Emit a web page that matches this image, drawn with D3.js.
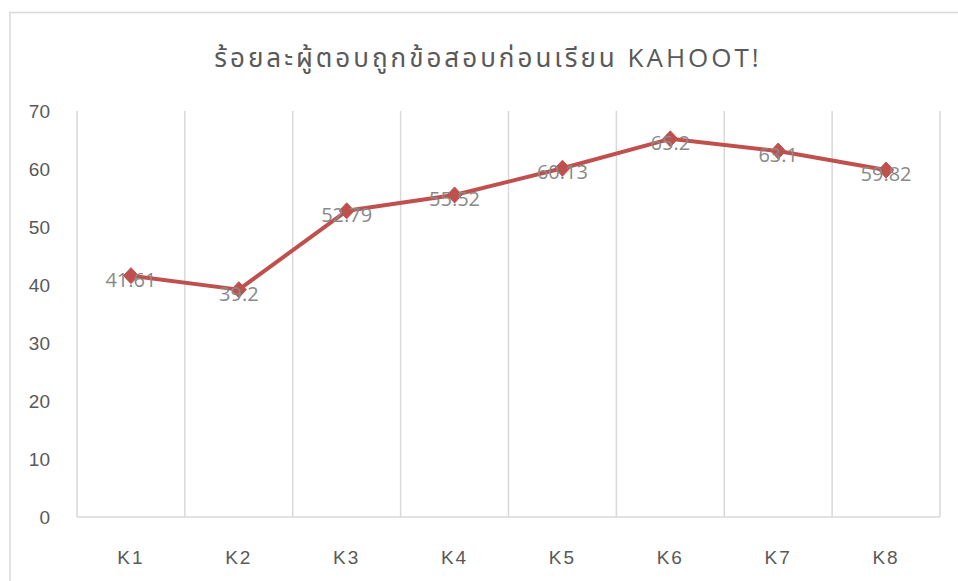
<!DOCTYPE html>
<html>
<head>
<meta charset="utf-8">
<script src="https://cdn.jsdelivr.net/npm/d3@7"></script>
<style>
  html, body { margin: 0; padding: 0; background: #fff; }
  svg { display: block; font-family: "Open Sans", "Noto Sans", "Noto Sans Thai", sans-serif; }
</style>
</head>
<body>
<svg id="chart" width="958" height="581"></svg>
<script>
const categories = ["K1", "K2", "K3", "K4", "K5", "K6", "K7", "K8"];
const values = [41.61, 39.2, 52.79, 55.52, 60.13, 65.2, 63.1, 59.82];
const valueLabels = ["41.61", "39.2", "52.79", "55.52", "60.13", "65.2", "63.1", "59.82"];
const yTicks = [0, 10, 20, 30, 40, 50, 60, 70];
const title = "ร้อยละผู้ตอบถูกข้อสอบก่อนเรียน KAHOOT!";

const svg = d3.select("#chart");
const plot = { left: 77, right: 940, top: 111, bottom: 517 };

// chart border
svg.append("rect")
  .attr("x", 10).attr("y", 12.5).attr("width", 960).attr("height", 600)
  .attr("fill", "#fff").attr("stroke", "#d9d9d9").attr("stroke-width", 1.5);

const x = d3.scaleBand().domain(categories).range([plot.left, plot.right]).padding(0);
const y = d3.scaleLinear().domain([0, 70]).range([plot.bottom, plot.top]);

// vertical gridlines at category boundaries
const bounds = categories.map(c => x(c)).concat([x(categories[categories.length - 1]) + x.bandwidth()]);
svg.append("g").selectAll("line").data(bounds).join("line")
  .attr("x1", d => d).attr("x2", d => d)
  .attr("y1", plot.top).attr("y2", plot.bottom)
  .attr("stroke", "#d9d9d9").attr("stroke-width", 1.5);

// x axis line
svg.append("line")
  .attr("x1", plot.left).attr("x2", plot.right)
  .attr("y1", plot.bottom).attr("y2", plot.bottom)
  .attr("stroke", "#d9d9d9").attr("stroke-width", 1.5);

// y axis labels
const yAxis = d3.axisLeft(y).tickValues(yTicks).tickSize(0).tickPadding(0);
const yg = svg.append("g").attr("transform", `translate(50,0)`).call(yAxis);
yg.select(".domain").remove();
yg.selectAll("text").attr("fill", "#595959").attr("font-size", 19).attr("font-family", "inherit");

// x axis labels
const xAxis = d3.axisBottom(x).tickSize(0).tickPadding(0);
const xg = svg.append("g").attr("transform", `translate(0,${plot.bottom + 33})`).call(xAxis);
xg.select(".domain").remove();
xg.selectAll("text").attr("fill", "#595959").attr("font-size", 19)
  .attr("letter-spacing", "2px").attr("font-family", "inherit");

// title
svg.append("text")
  .attr("x", 488).attr("y", 67)
  .attr("text-anchor", "middle")
  .attr("fill", "#595959")
  .attr("font-size", 26)
  .attr("letter-spacing", "3px")
  .text(title);

const data = categories.map((c, i) => ({ c, v: values[i], label: valueLabels[i] }));
const cx = d => x(d.c) + x.bandwidth() / 2;

// line
svg.append("path").datum(data)
  .attr("fill", "none")
  .attr("stroke", "#c0504d")
  .attr("stroke-width", 4)
  .attr("stroke-linejoin", "round")
  .attr("d", d3.line().x(cx).y(d => y(d.v)));

// diamond markers
svg.append("g").selectAll("path").data(data).join("path")
  .attr("transform", d => `translate(${cx(d)},${y(d.v)})`)
  .attr("d", "M0,-8L7.5,0L0,8L-7.5,0Z")
  .attr("fill", "#c0504d")
  .attr("stroke", "#c0504d").attr("stroke-width", 1);

// data labels
svg.append("g").selectAll("text").data(data).join("text")
  .attr("x", cx)
  .attr("y", d => y(d.v) + 11)
  .attr("text-anchor", "middle")
  .attr("fill", "#898989")
  .attr("font-size", 20)
  .text(d => d.label);
</script>
</body>
</html>
